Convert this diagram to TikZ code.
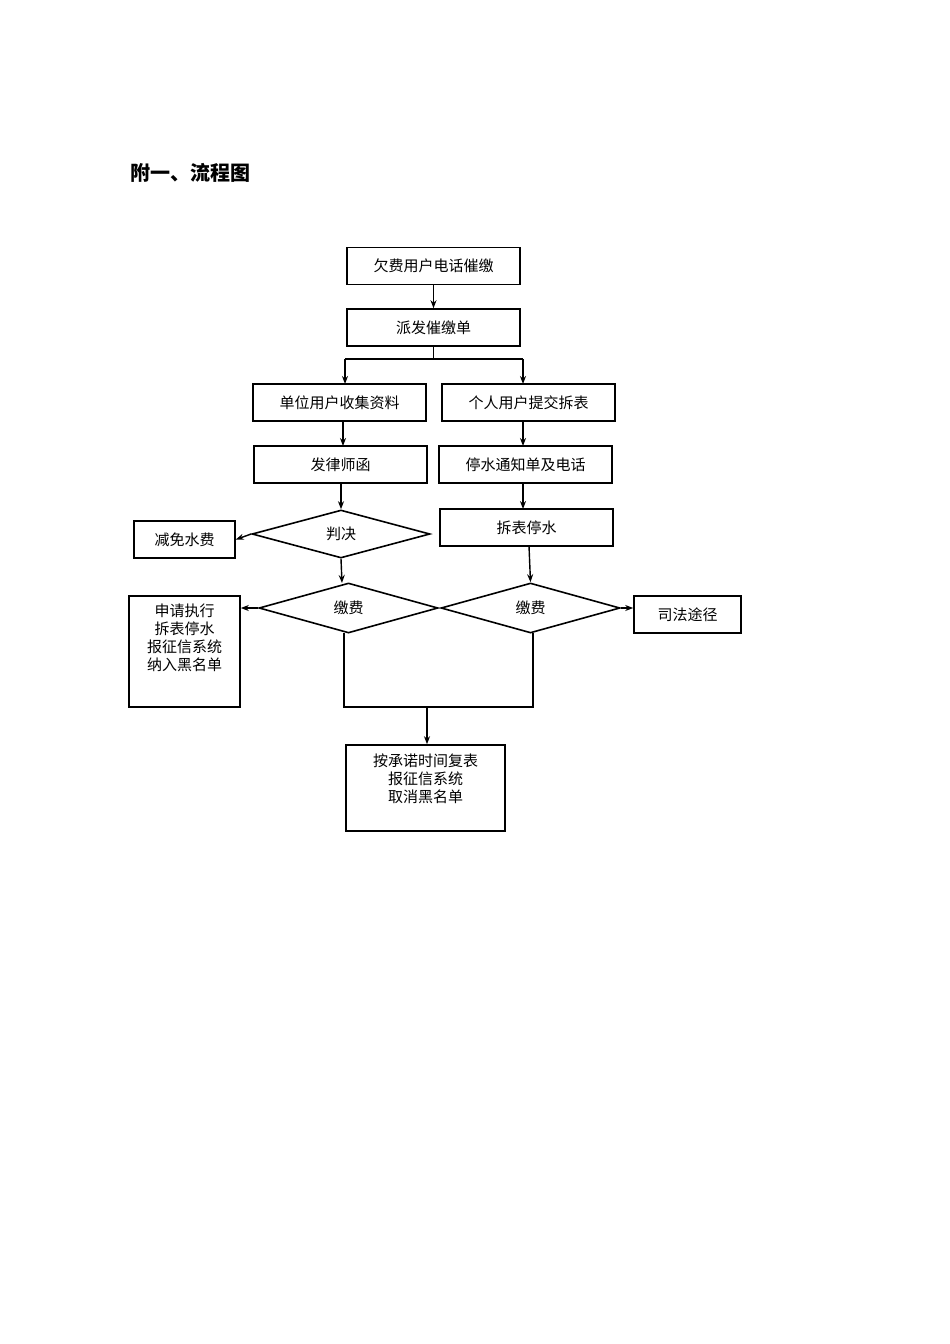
\documentclass[tikz,border=0pt]{standalone}
\usepackage{fontspec}
\setmainfont{Noto Sans CJK SC}
\usetikzlibrary{arrows.meta,shapes.geometric}
\begin{document}
\begin{tikzpicture}[x=1pt,y=-1pt,
  bx/.style={draw,line width=1.6pt,minimum height=37pt,inner sep=0pt,font=\fontsize{15}{17}\selectfont},
  dm/.style={draw,diamond,aspect=3.6,line width=1.6pt,inner sep=0pt,font=\fontsize{15}{17}\selectfont},
  ar/.style={line width=1.4pt,-{Stealth[length=8pt,width=6pt]}},
  ln/.style={line width=1.4pt}]
\useasboundingbox (0,0) rectangle (950,1344);
\node[font=\bfseries\fontsize{20}{24}\selectfont,anchor=west] (title) at (127,173) {附一、流程图};
\node[bx,minimum width=173pt] (b1) at (433.5,266) {欠费用户电话催缴};
\node[bx,minimum width=173pt] (b2) at (433.5,327.5) {派发催缴单};
\node[bx,minimum width=173pt] (b3) at (339.5,402.5) {单位用户收集资料};
\node[bx,minimum width=173pt] (b4) at (528.5,402.5) {个人用户提交拆表};
\node[bx,minimum width=173pt] (b5) at (340.5,464.5) {发律师函};
\node[bx,minimum width=173pt] (b6) at (525.5,464.5) {停水通知单及电话};
\node[dm,minimum width=178pt,minimum height=48pt] (d1) at (341,534) {判决};
\node[bx,minimum width=101pt] (b7) at (184.5,539.5) {减免水费};
\node[bx,minimum width=173pt] (b8) at (526.5,527.5) {拆表停水};
\node[dm,minimum width=179pt,minimum height=50pt] (d2) at (348.5,608) {缴费};
\node[dm,minimum width=179pt,minimum height=50pt] (d3) at (530.5,608) {缴费};
\node[bx,minimum width=107pt] (b9) at (687.5,614.5) {司法途径};
\node[draw,line width=1.6pt,minimum width=111pt,minimum height=111pt,inner sep=0pt,font=\fontsize{15}{18}\selectfont] (b10) at (184.5,651.5) {};
\node[font=\fontsize{15}{18}\selectfont,align=center,anchor=north] (t10) at (184.5,600) {申请执行\\拆表停水\\报征信系统\\纳入黑名单};
\node[draw,line width=1.6pt,minimum width=159pt,minimum height=86pt,inner sep=0pt] (b11) at (425.5,788) {};
\node[font=\fontsize{15}{18}\selectfont,align=center,anchor=north] (t11) at (425.5,750) {按承诺时间复表\\报征信系统\\取消黑名单};
\coordinate (s1) at (433.5,359);
\coordinate (sl) at (345,359);
\coordinate (sr) at (523,359);
\coordinate (jl) at (344,707);
\coordinate (jr) at (533,707);
\coordinate (jm) at (427,707);
\draw[ar] (b1) -- (b2);
\draw[ln] (b2.south) -- (s1);
\draw[ln] (sl) -- (sr);
\draw[ar] (sl) -- (345,384);
\draw[ar] (sr) -- (523,384);
\draw[ar] (343,421) -- (343,446);
\draw[ar] (523,421) -- (523,446);
\draw[ar] (341,483) -- (d1.north);
\draw[ar] (523,483) -- (523,509);
\draw[ar] (d1.west) -- (b7.east);
\draw[ar] (d1.south) -- (342,583);
\draw[ar] (529,546) -- (d3.north);
\draw[ar] (d2.west) -- (b10.east |- d2.west);
\draw[ar] (d3.east) -- (b9.west |- d3.east);
\draw[ln] (344,633) -- (jl) -- (jr) -- (533,633);
\draw[ar] (jm) -- (b11.north -| jm);
\end{tikzpicture}
\end{document}
